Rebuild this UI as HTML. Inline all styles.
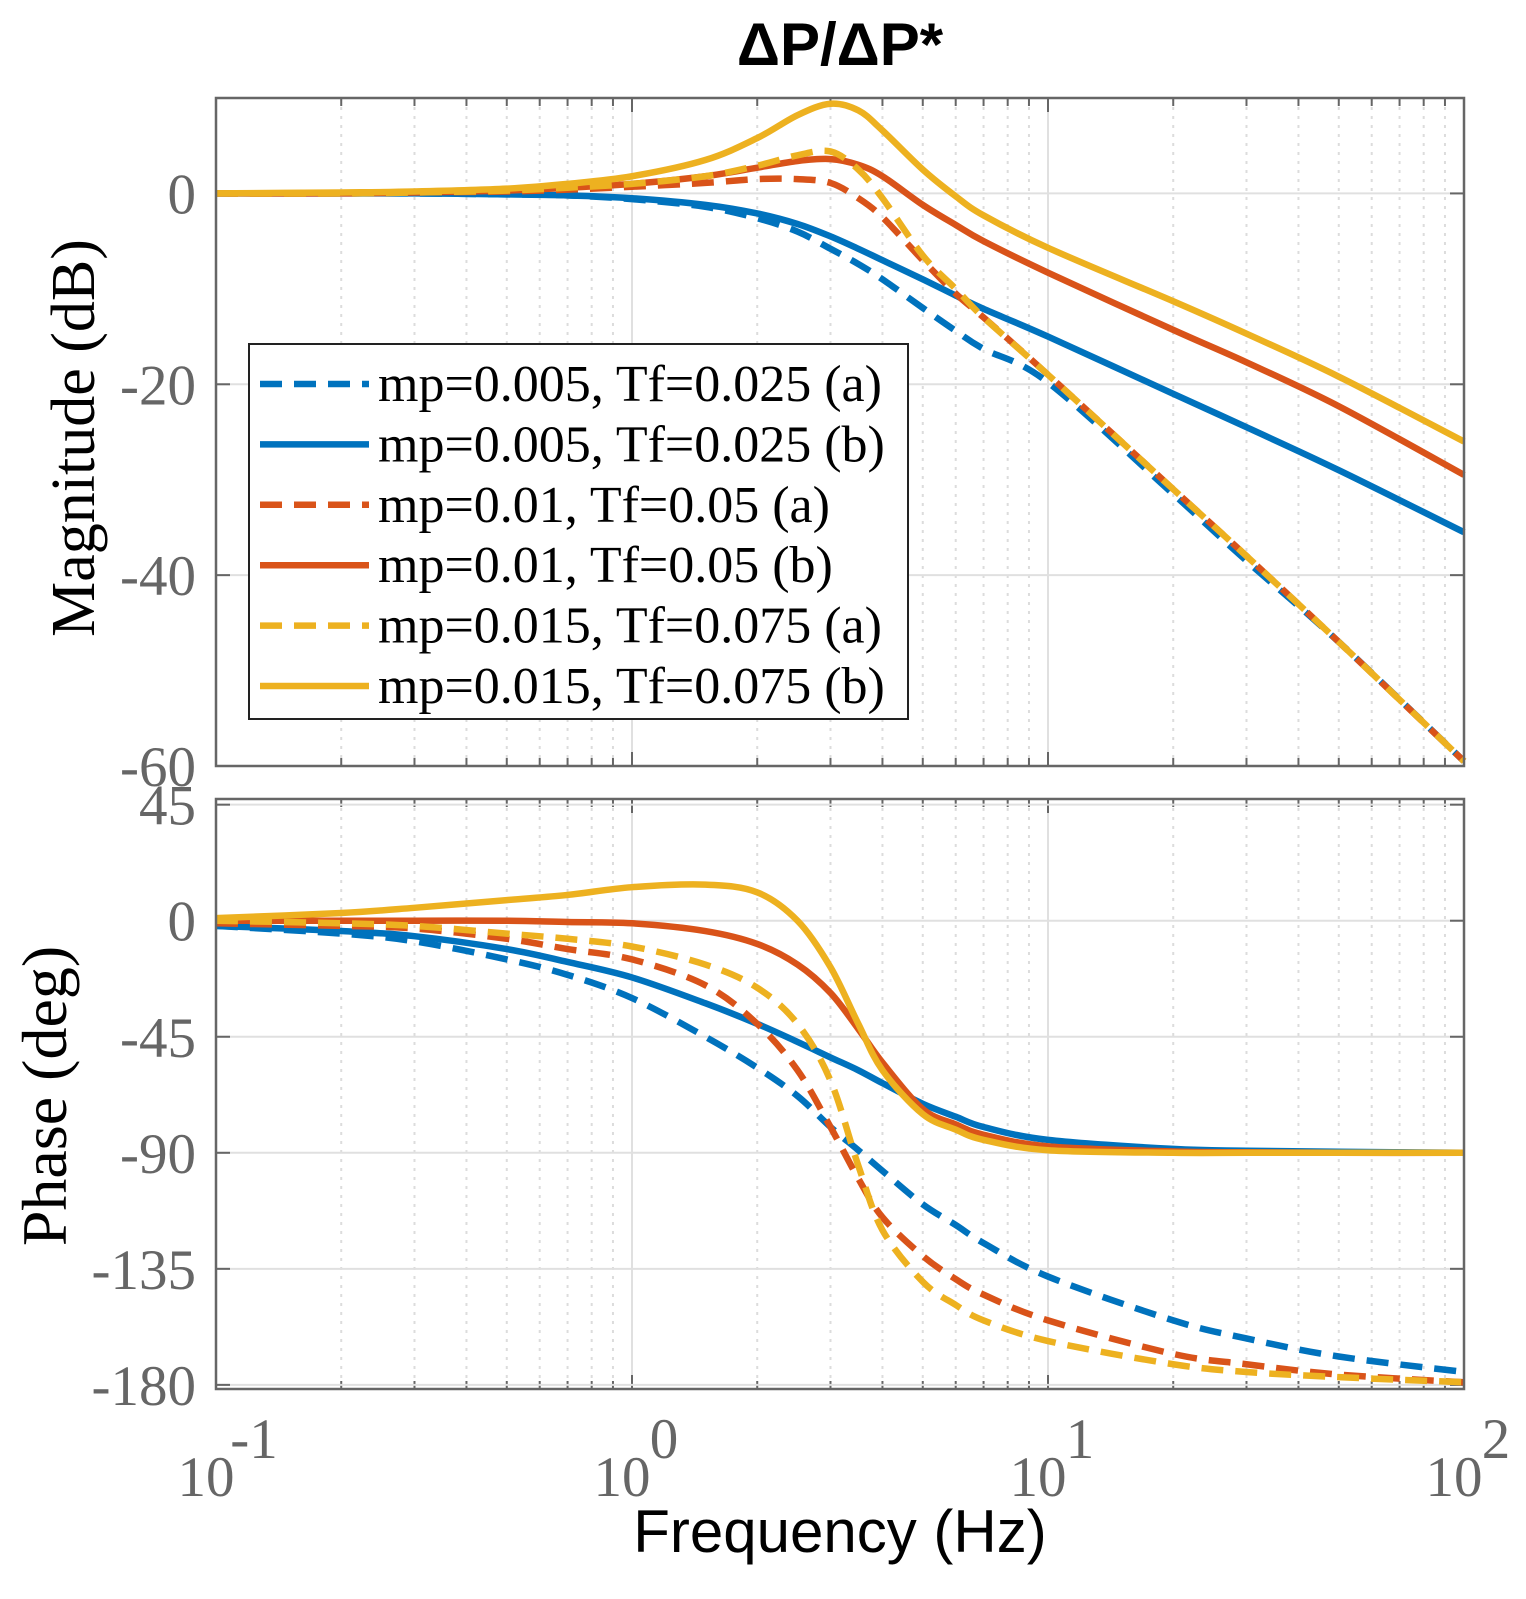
<!DOCTYPE html>
<html><head><meta charset="utf-8"><style>
html,body{margin:0;padding:0;background:#fff;}
svg{display:block;}
.tk{font-family:"Liberation Serif",serif;fill:#666;font-size:57px;}
</style></head><body>
<svg id="chart" width="1526" height="1599" viewBox="0 0 1526 1599" xmlns="http://www.w3.org/2000/svg">
<text x="840" y="65" text-anchor="middle" font-family="Liberation Sans, sans-serif" font-weight="bold" font-size="60" fill="#000">ΔP/ΔP*</text>
<g id="g"></g>
</svg>
<script>
const freqs = [0.1,0.2,0.3,0.5,0.7,1,1.5,2,2.5,3,3.5,4,5,6,7,10,20,30,50,100];
const magBlueA = [0,0,0,-0.1,-0.2,-0.6,-1.4,-2.6,-4,-5.8,-7.4,-9,-12,-14.4,-16.3,-19.8,-31.5,-38.5,-47,-59.5];
const magBlueB = [0,0,0,-0.1,-0.2,-0.5,-1.2,-2.1,-3.2,-4.5,-5.8,-7,-9,-10.7,-12.1,-15,-21,-24.5,-29,-35.5];
const magRedA = [0,0,0.1,0.2,0.4,0.7,1.1,1.5,1.5,1.1,-0.5,-2.5,-7,-10.5,-13,-19,-31,-38,-47,-59.5];
const magRedB = [0,0,0.1,0.3,0.6,1,1.8,2.7,3.4,3.6,3,1.8,-1.2,-3.3,-5,-8.3,-14.3,-17.7,-22.3,-29.5];
const magYelA = [0,0,0.1,0.3,0.6,1,1.8,2.9,4,4.4,2.5,-0.5,-6.5,-10,-13,-19,-31,-38,-47,-59.5];
const magYelB = [0,0.1,0.2,0.5,1,1.8,3.5,5.8,8.2,9.4,8.7,6.6,2.5,-0.3,-2.3,-5.7,-11.3,-14.7,-19.2,-26];
const phBlueA = [-2,-5,-8,-15,-21,-30,-45,-57,-68,-80,-89,-97,-110,-118,-125,-138,-155,-162,-169,-175];
const phBlueB = [-2,-4,-6,-11,-16,-22,-32,-40,-47,-53,-58,-63,-71,-76,-80,-85,-88.5,-89.2,-89.6,-90];
const phRedA = [-1,-2,-3,-7,-11,-15,-25,-40,-58,-80,-100,-115,-130,-139,-145,-155,-168,-172,-176,-179];
const phRedB = [0,0,0,0,-0.5,-1,-4,-9,-17,-28,-42,-55,-73,-79,-83,-87.5,-89.5,-89.8,-90,-90];
const phYelA = [0,-1,-2,-5,-7,-10,-17,-26,-40,-62,-95,-120,-140,-149,-155,-163,-172,-175,-177,-179];
const phYelB = [1,3,5,8,10,13,14,11,0,-18,-40,-58,-75,-81,-85,-89,-90,-90,-90,-90];
const xTicks = [-1,0,1,2];
const magTicks = [0,-20,-40,-60];
const phTicks = [45,0,-45,-90,-135,-180];
const legendLabels = ["mp=0.005, Tf=0.025 (a)","mp=0.005, Tf=0.025 (b)","mp=0.01, Tf=0.05 (a)","mp=0.01, Tf=0.05 (b)","mp=0.015, Tf=0.075 (a)","mp=0.015, Tf=0.075 (b)"];

const NS="http://www.w3.org/2000/svg";
const g=document.getElementById('g');
const L=216,R=1464;
const X=f=>L+(Math.log10(f)+1)/3*(R-L);
const top1=98,bot1=766,mMax=10,mMin=-60;
const Y1=v=>top1+(mMax-v)/(mMax-mMin)*(bot1-top1);
const top2=799,bot2=1389,pMax=47.2,pMin=-181.6;
const Y2=v=>top2+(pMax-v)/(pMax-pMin)*(bot2-top2);
function el(t,a,p){const e=document.createElementNS(NS,t);for(const k in a)e.setAttribute(k,a[k]);(p||g).appendChild(e);return e;}
function pathFrom(pts){let d=`M${pts[0][0]},${pts[0][1]}`;for(let i=0;i<pts.length-1;i++){const p0=pts[Math.max(0,i-1)],p1=pts[i],p2=pts[i+1],p3=pts[Math.min(pts.length-1,i+2)];
const c1=[p1[0]+(p2[0]-p0[0])/6,p1[1]+(p2[1]-p0[1])/6],c2=[p2[0]-(p3[0]-p1[0])/6,p2[1]-(p3[1]-p1[1])/6];
d+=` C${c1[0]},${c1[1]} ${c2[0]},${c2[1]} ${p2[0]},${p2[1]}`;}return d;}
function axes(top,bot,ticks,Y,name){
  for(let dec=-1;dec<2;dec++)for(let m=2;m<10;m++){const x=X(m*Math.pow(10,dec));
    const l=el('line',{x1:x,x2:x,y1:top,y2:bot,stroke:'#dcdcdc','stroke-width':2,'stroke-dasharray':'3 6'});
    
    for(const [a,b] of [[top,top+8],[bot-8,bot]]){const t=el('line',{x1:x,x2:x,y1:a,y2:b,stroke:'#666','stroke-width':2});}}
  for(const d of xTicks){const x=X(Math.pow(10,d));
    const l=el('line',{x1:x,x2:x,y1:top,y2:bot,stroke:'#e0e0e0','stroke-width':2});
    for(const [a,b] of [[top,top+14],[bot-14,bot]]){const t=el('line',{x1:x,x2:x,y1:a,y2:b,stroke:'#666','stroke-width':2});}}
  for(const v of ticks){const y=Y(v);
    const l=el('line',{x1:L,x2:R,y1:y,y2:y,stroke:'#e0e0e0','stroke-width':2});
    for(const [a,b] of [[L,L+14],[R-14,R]]){const t=el('line',{x1:a,x2:b,y1:y,y2:y,stroke:'#666','stroke-width':2});}
    const t=el('text',{x:L-20,y:y+20,'text-anchor':'end',class:'tk'});t.textContent=v;
    }
}
axes(top1,bot1,magTicks,Y1,'magnitude');
axes(top2,bot2,phTicks,Y2,'phase');
const cols=['#0072BD','#0072BD','#D95319','#D95319','#EDB120','#EDB120'];
const mags=[magBlueA,magBlueB,magRedA,magRedB,magYelA,magYelB];
const phs=[phBlueA,phBlueB,phRedA,phRedB,phYelA,phYelB];
const names=['blue-a','blue-b','red-a','red-b','yellow-a','yellow-b'];
function series(arr,Y,i,kind,clipTop,clipBot){
  const pts=freqs.map((f,j)=>[X(f),Math.max(clipTop,Math.min(clipBot,Y(arr[j])))]);
  const p=el('path',{d:pathFrom(pts),fill:'none',stroke:cols[i],'stroke-width':6.5,'stroke-linejoin':'round'});
  if(i%2===0)p.setAttribute('stroke-dasharray','22 12');
  
  
}
for(let i=0;i<6;i++){series(mags[i],Y1,i,'magnitude',top1,bot1);series(phs[i],Y2,i,'phase',top2,bot2);}
for(const [t,b,n] of [[top1,bot1,'magnitude-axes-box'],[top2,bot2,'phase-axes-box']]){
  const r=el('rect',{x:L,y:t,width:R-L,height:b-t,fill:'none',stroke:'#666','stroke-width':2.5});}
for(const d of xTicks){const x=X(Math.pow(10,d));
  const t=el('text',{x:x-10,y:1496,'text-anchor':'middle',class:'tk','font-size':'64'});t.textContent='10';
  
  const s=el('text',{x:x+(d<0?38:32),y:1458,'text-anchor':'middle',class:'tk','font-size':'44'});s.textContent=String(d);
  }
const lg=el('rect',{x:249,y:344,width:659,height:375,fill:'#fff',stroke:'#222','stroke-width':2});

legendLabels.forEach((lab,i)=>{const y=384+i*60.4;
  const l=el('line',{x1:260,x2:369,y1:y,y2:y,stroke:cols[i],'stroke-width':6.5});if(i%2===0)l.setAttribute('stroke-dasharray','22 12');
  
  const t=el('text',{x:378,y:y+17,'font-family':'Liberation Serif, serif','font-size':'52',fill:'#000'});t.textContent=lab;
  });
const yl1=el('text',{x:0,y:0,transform:'translate(94,438) rotate(-90)','text-anchor':'middle','font-family':'Liberation Serif, serif','font-size':'62',fill:'#000'});yl1.textContent='Magnitude (dB)';

const yl2=el('text',{x:0,y:0,transform:'translate(66,1096) rotate(-90)','text-anchor':'middle','font-family':'Liberation Serif, serif','font-size':'64',fill:'#000'});yl2.textContent='Phase (deg)';

const xl=el('text',{x:840,y:1552,'text-anchor':'middle','font-family':'Liberation Sans, sans-serif','font-size':'60',fill:'#000','xml:space':'preserve'});xl.textContent='Frequency  (Hz)';

</script>
</body></html>
